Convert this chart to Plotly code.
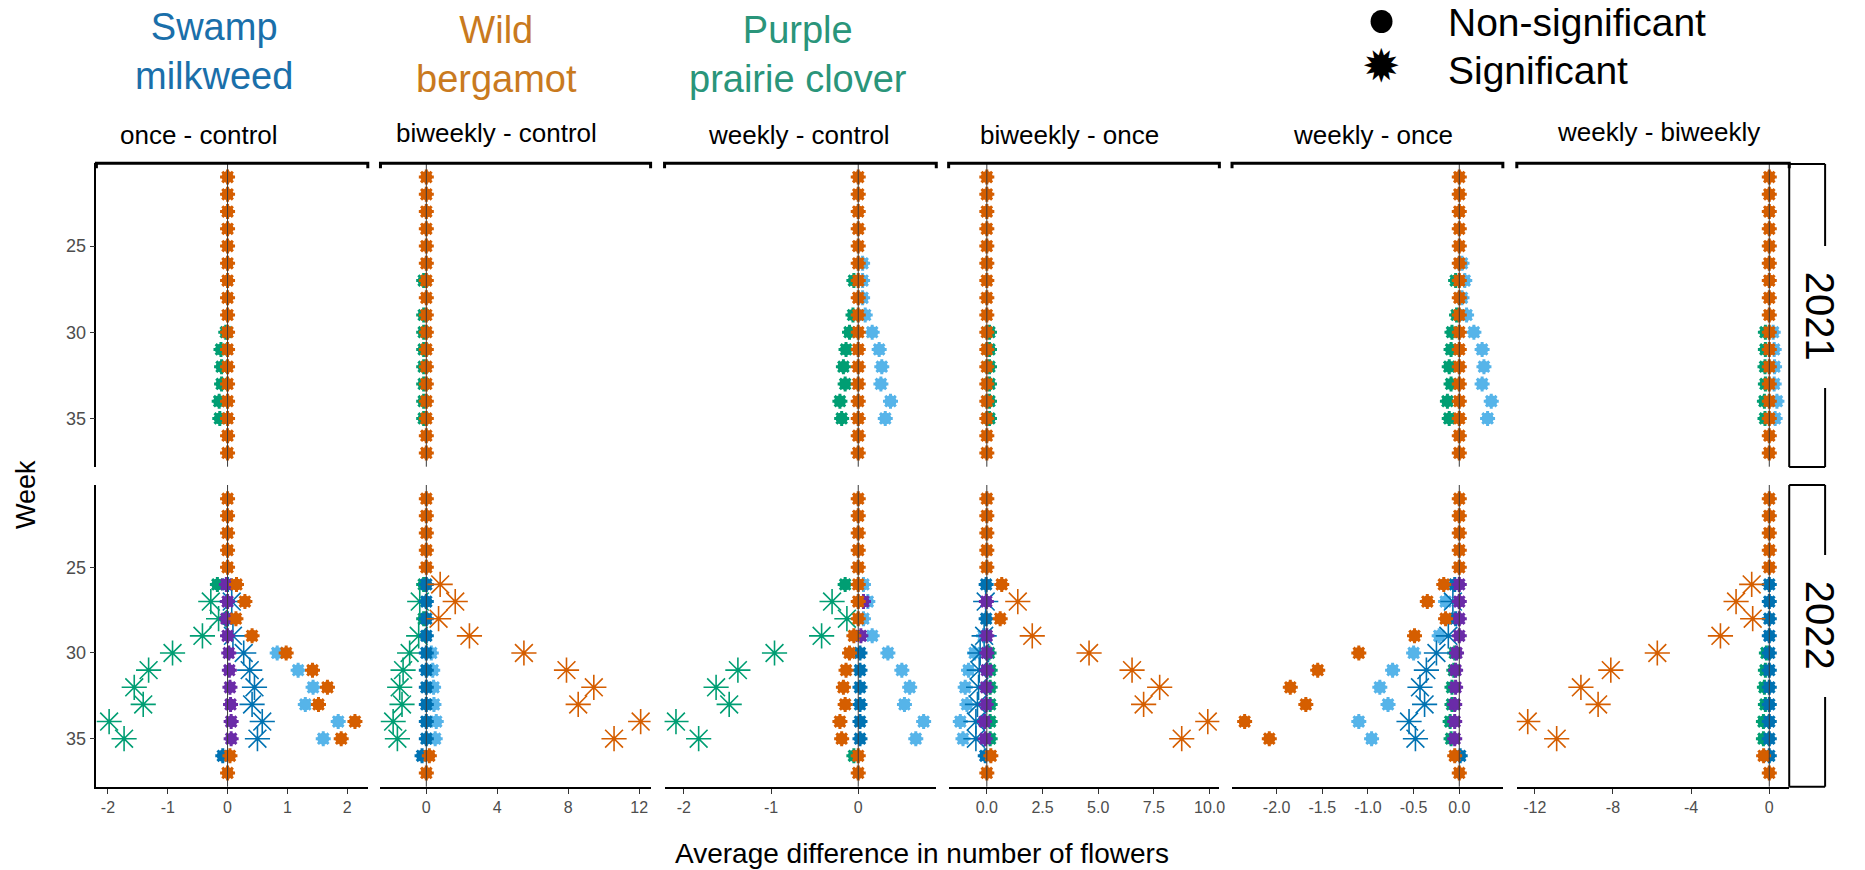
import plotly.graph_objects as go

W, H = 1865, 870
N = None

# ---------------------------------------------------------------- data
WEEKS = [21, 22, 23, 24, 25, 26, 27, 28, 29, 30, 31, 32, 33, 34, 35, 36, 37]
COMPARISONS = ["once - control", "biweekly - control", "weekly - control",
               "biweekly - once", "weekly - once", "weekly - biweekly"]
YEARS = ["2021", "2022"]
X_TICKS = [
    [-2, -1, 0, 1, 2],
    [0, 4, 8, 12],
    [-2, -1, 0],
    [0.0, 2.5, 5.0, 7.5, 10.0],
    [-2.0, -1.5, -1.0, -0.5, 0.0],
    [-12, -8, -4, 0],
]
X_TICKTEXT = [
    ["-2", "-1", "0", "1", "2"],
    ["0", "4", "8", "12"],
    ["-2", "-1", "0"],
    ["0.0", "2.5", "5.0", "7.5", "10.0"],
    ["-2.0", "-1.5", "-1.0", "-0.5", "0.0"],
    ["-12", "-8", "-4", "0"],
]
Y_TICKS = [25, 30, 35]

# average differences per week (weeks 21..37), one list per group colour
once_control_2021 = {
    "green":  [N, N, N, N, N, N, N, N, N, -0.03, -0.11, -0.10, -0.10, -0.14, -0.13, N, N],
    "orange": [0, 0, 0, 0, 0, 0, 0, 0, 0, 0, 0, 0, 0, 0, 0, 0, 0],
}
biweekly_control_2021 = {
    "green":  [N, N, N, N, N, N, -0.15, N, -0.15, -0.15, -0.15, -0.15, -0.15, -0.15, -0.15, N, N],
    "orange": [0, 0, 0, 0, 0, 0, 0, 0, 0, 0, 0, 0, 0, 0, 0, 0, 0],
}
weekly_control_2021 = {
    "green":   [N, N, N, N, N, N, -0.05, N, -0.06, -0.10, -0.14, -0.17, -0.15, -0.21, -0.19, N, N],
    "skyblue": [N, N, N, N, N, 0.05, 0.05, 0.05, 0.08, 0.16, 0.24, 0.27, 0.26, 0.37, 0.31, N, N],
    "orange":  [0, 0, 0, 0, 0, 0, 0, 0, 0, 0, 0, 0, 0, 0, 0, 0, 0],
}
biweekly_once_2021 = {
    "green":  [N, N, N, N, N, N, N, N, N, 0.12, 0.12, 0.12, 0.12, 0.12, 0.12, N, N],
    "orange": [0, 0, 0, 0, 0, 0, 0, 0, 0, 0, 0, 0, 0, 0, 0, 0, 0],
}
weekly_once_2021 = {
    "green":   [N, N, N, N, N, N, -0.04, N, -0.03, -0.08, -0.09, -0.11, -0.09, -0.13, -0.11, N, N],
    "skyblue": [N, N, N, N, N, 0.03, 0.06, 0.03, 0.08, 0.16, 0.25, 0.27, 0.25, 0.35, 0.31, N, N],
    "orange":  [0, 0, 0, 0, 0, 0, 0, 0, 0, 0, 0, 0, 0, 0, 0, 0, 0],
}
weekly_biweekly_2021 = {
    "green":   [N, N, N, N, N, N, N, N, N, -0.20, -0.20, -0.22, -0.20, -0.25, -0.22, N, N],
    "skyblue": [N, N, N, N, N, N, N, N, N, 0.20, 0.25, 0.27, 0.25, 0.39, 0.30, N, N],
    "orange":  [0, 0, 0, 0, 0, 0, 0, 0, 0, 0, 0, 0, 0, 0, 0, 0, 0],
}

once_control_2022 = {
    "green":   [N, N, N, N, N, -0.17, -0.28, -0.15, -0.42, -0.92, -1.32, -1.56, -1.41, -1.98, -1.73, N, N],
    "skyblue": [N, N, N, N, N, N, N, N, N, 0.83, 1.18, 1.43, 1.30, 1.85, 1.60, N, N],
    "blue":    [N, N, N, N, N, 0, 0.07, 0, 0.09, 0.27, 0.37, 0.45, 0.41, 0.58, 0.50, -0.08, N],
    "purple":  [N, N, N, N, N, -0.02, 0, -0.02, 0, 0.02, 0.03, 0.04, 0.05, 0.06, 0.06, N, N],
    "orange":  [0, 0, 0, 0, 0, 0.15, 0.29, 0.14, 0.41, 0.98, 1.42, 1.67, 1.52, 2.13, 1.90, 0.04, 0],
}
biweekly_control_2022 = {
    "green":   [N, N, N, N, N, -0.15, -0.37, -0.15, -0.43, -0.94, -1.31, -1.50, -1.37, -1.87, -1.63, N, N],
    "skyblue": [N, N, N, N, N, N, N, N, N, 0.28, 0.36, 0.41, 0.43, 0.56, 0.50, N, N],
    "blue":    [N, N, N, N, N, 0, 0, 0, 0, 0, 0, 0, 0, 0, 0, -0.24, N],
    "orange":  [0, 0, 0, 0, 0, 0.78, 1.63, 0.69, 2.43, 5.50, 7.90, 9.44, 8.56, 12.08, 10.58, 0.17, 0],
}
weekly_control_2022 = {
    "green":   [N, N, N, N, N, -0.15, -0.30, -0.13, -0.42, -0.96, -1.38, -1.63, -1.48, -2.09, -1.83, -0.05, N],
    "skyblue": [N, N, N, N, N, 0.06, 0.11, 0.06, 0.16, 0.34, 0.50, 0.59, 0.53, 0.75, 0.66, N, N],
    "blue":    [N, N, N, N, N, N, N, N, N, 0.02, 0.02, 0.02, 0.02, 0.02, 0.02, N, N],
    "purple":  [N, N, N, N, N, N, 0.06, N, 0.03, N, N, N, N, N, N, N, N],
    "orange":  [0, 0, 0, 0, 0, 0, 0, 0, -0.05, -0.10, -0.14, -0.17, -0.15, -0.21, -0.19, 0, 0],
}
biweekly_once_2022 = {
    "green":   [N, N, N, N, N, N, N, N, N, 0.10, 0.15, 0.15, 0.15, 0.15, 0.15, N, N],
    "skyblue": [N, N, N, N, N, N, N, N, -0.15, -0.55, -0.82, -0.97, -0.89, -1.19, -1.07, N, N],
    "blue":    [N, N, N, N, N, -0.03, -0.05, -0.03, -0.12, -0.30, -0.34, -0.37, -0.42, -0.49, -0.49, -0.07, N],
    "purple":  [N, N, N, N, N, N, -0.02, N, 0, 0, 0, -0.03, -0.03, -0.10, -0.07, N, N],
    "orange":  [0, 0, 0, 0, 0, 0.67, 1.39, 0.60, 2.04, 4.59, 6.52, 7.76, 7.04, 9.92, 8.75, 0.18, 0],
}
weekly_once_2022 = {
    "green":   [N, N, N, N, N, N, N, N, N, -0.05, -0.06, -0.08, -0.08, -0.10, -0.09, N, N],
    "skyblue": [N, N, N, N, N, N, -0.15, N, -0.22, -0.50, -0.73, -0.87, -0.78, -1.10, -0.96, N, N],
    "blue":    [N, N, N, N, N, -0.05, -0.07, -0.04, -0.12, -0.25, -0.36, -0.43, -0.38, -0.55, -0.48, 0.01, N],
    "purple":  [N, N, N, N, N, 0, 0, 0, 0, -0.03, -0.04, -0.04, -0.05, -0.05, -0.05, N, N],
    "orange":  [0, 0, 0, 0, 0, -0.17, -0.35, -0.15, -0.49, -1.10, -1.55, -1.85, -1.68, -2.35, -2.08, -0.05, 0],
}
weekly_biweekly_2022 = {
    "green":  [N, N, N, N, N, N, N, N, N, -0.15, -0.20, -0.25, -0.20, -0.30, -0.30, N, N],
    "blue":   [N, N, N, N, N, 0, 0, 0, 0, 0, 0, 0, 0, 0, 0, 0, N],
    "orange": [0, 0, 0, 0, 0, -0.90, -1.70, -0.85, -2.50, -5.73, -8.11, -9.64, -8.76, -12.36, -10.88, -0.29, 0],
}

# weeks whose difference is significant, per group colour
sig_once_control_2022 = {"green": [27, 28, 29, 30, 31, 32, 33, 34, 35],
                         "blue": [27, 29, 30, 31, 32, 33, 34, 35]}
sig_biweekly_control_2022 = {"green": [27, 29, 30, 31, 32, 33, 34, 35],
                             "orange": [26, 27, 28, 29, 30, 31, 32, 33, 34, 35]}
sig_weekly_control_2022 = {"green": [27, 28, 29, 30, 31, 32, 33, 34, 35]}
sig_biweekly_once_2022 = {"blue": [27, 29, 30, 31, 32, 33, 34, 35],
                          "orange": [27, 29, 30, 31, 32, 33, 34, 35]}
sig_weekly_once_2022 = {"blue": [27, 29, 30, 31, 32, 33, 34, 35]}
sig_weekly_biweekly_2022 = {"orange": [26, 27, 28, 29, 30, 31, 32, 33, 34, 35]}

PANELS = [
    [once_control_2021, biweekly_control_2021, weekly_control_2021,
     biweekly_once_2021, weekly_once_2021, weekly_biweekly_2021],
    [once_control_2022, biweekly_control_2022, weekly_control_2022,
     biweekly_once_2022, weekly_once_2022, weekly_biweekly_2022],
]
SIGNIFICANT = [
    [{}, {}, {}, {}, {}, {}],
    [sig_once_control_2022, sig_biweekly_control_2022, sig_weekly_control_2022,
     sig_biweekly_once_2022, sig_weekly_once_2022, sig_weekly_biweekly_2022],
]

# ---------------------------------------------------------------- styling
FONT = "Liberation Sans, Arial, Helvetica, sans-serif"
COLORS = {"green": "#009E73", "skyblue": "#56B4E9", "blue": "#0072B2",
          "purple": "#6A2BA8", "orange": "#D55E00"}
DRAW_ORDER = ["green", "skyblue", "blue", "purple", "orange"]

# panel geometry in pixels
COL_PX = [(96.7, 369.0), (381.7, 652.7), (666.7, 939.3),
          (951.7, 1223.3), (1236.0, 1507.7), (1521.7, 1795.0)]
ROW_PX = [(163.3, 466.7), (485.0, 786.7)]
X_RANGES = [(-2.193, 2.345), (-2.584, 12.64), (-2.221, 0.895),
            (-1.714, 10.44), (-2.488, 0.477), (-12.92, 1.02)]
Y_RANGE = [37.8, 20.2]


def px(x):
    return x / W


def py(y):
    return 1 - y / H


fig = go.Figure()
layout_axes = {}
shapes = []

for r in range(2):
    for c in range(6):
        idx = r * 6 + c + 1
        xname = "x" if idx == 1 else f"x{idx}"
        yname = "y" if idx == 1 else f"y{idx}"
        xkey = "xaxis" if idx == 1 else f"xaxis{idx}"
        ykey = "yaxis" if idx == 1 else f"yaxis{idx}"
        bottom = r == 1
        left = c == 0
        layout_axes[xkey] = dict(
            domain=[px(COL_PX[c][0]), px(COL_PX[c][1])],
            range=list(X_RANGES[c]), anchor=yname,
            showgrid=False, zeroline=False,
            showline=bottom, linecolor="#000000", linewidth=1.6,
            ticks="outside" if bottom else "", ticklen=5, tickwidth=1,
            tickcolor="#333333",
            showticklabels=bottom,
            tickvals=X_TICKS[c], ticktext=X_TICKTEXT[c],
            tickfont=dict(family=FONT, size=16, color="#4D4D4D"),
            fixedrange=True,
        )
        layout_axes[ykey] = dict(
            domain=[py(ROW_PX[r][1]), py(ROW_PX[r][0])],
            range=Y_RANGE, anchor=xname,
            showgrid=False, zeroline=False,
            showline=left, linecolor="#000000", linewidth=1.6,
            ticks="outside" if left else "", ticklen=5, tickwidth=1,
            tickcolor="#333333",
            showticklabels=left, tickvals=Y_TICKS,
            tickfont=dict(family=FONT, size=18, color="#4D4D4D"),
            fixedrange=True,
        )

        panel = PANELS[r][c]
        sig = SIGNIFICANT[r][c]
        for g in DRAW_ORDER:
            if g not in panel:
                continue
            col = COLORS[g]
            sig_weeks = sig.get(g, [])
            nx, ny, sx, sy = [], [], [], []
            for w, v in zip(WEEKS, panel[g]):
                if v is None:
                    continue
                if w in sig_weeks:
                    sx.append(v)
                    sy.append(w)
                else:
                    nx.append(v)
                    ny.append(w)
            if nx:
                fig.add_trace(go.Scatter(
                    x=nx, y=ny, mode="markers", xaxis=xname, yaxis=yname,
                    marker=dict(symbol="circle", size=12, color=col,
                                line=dict(width=0)),
                    showlegend=False, hoverinfo="skip"))
                fig.add_trace(go.Scatter(
                    x=nx, y=ny, mode="markers", xaxis=xname, yaxis=yname,
                    marker=dict(symbol="asterisk-open", size=12.5, color=col,
                                line=dict(width=3, color=col)),
                    showlegend=False, hoverinfo="skip"))
            if sx:
                fig.add_trace(go.Scatter(
                    x=sx, y=sy, mode="markers", xaxis=xname, yaxis=yname,
                    marker=dict(symbol="asterisk-open", size=21, color=col,
                                line=dict(width=1.6, color=col)),
                    showlegend=False, hoverinfo="skip"))

        # zero reference line
        shapes.append(dict(type="line", xref=xname, yref=f"{yname} domain",
                           x0=0, x1=0, y0=0, y1=1, layer="above",
                           line=dict(color="#3A3A3A", width=1)))

# facet header brackets
HEADER_Y = 163.3
for (x0, x1) in COL_PX:
    path = (f"M {px(x0)},{py(HEADER_Y + 5)} L {px(x0)},{py(HEADER_Y)} "
            f"L {px(x1)},{py(HEADER_Y)} L {px(x1)},{py(HEADER_Y + 5)}")
    shapes.append(dict(type="path", xref="paper", yref="paper", path=path,
                       line=dict(color="#000000", width=3)))

# year strips on the right
STRIP_X0, STRIP_X1 = 1795.0, 1831.0
for (y0, y1), yc in zip([(164.0, 467.0), (485.0, 786.7)], [316.0, 625.0]):
    seg = [
        (STRIP_X0, y0, STRIP_X0, y1),
        (STRIP_X0, y0, STRIP_X1, y0),
        (STRIP_X0, y1, STRIP_X1, y1),
        (STRIP_X1, y0, STRIP_X1, yc - 70),
        (STRIP_X1, yc + 72, STRIP_X1, y1),
    ]
    for (a, b, cc, d) in seg:
        shapes.append(dict(type="line", xref="paper", yref="paper",
                           x0=px(a), y0=py(b), x1=px(cc), y1=py(d),
                           line=dict(color="#000000", width=2)))

# legend marker (filled circle)
shapes.append(dict(type="circle", xref="paper", yref="paper",
                   x0=px(1375), x1=px(1397), y0=py(33), y1=py(10),
                   fillcolor="#000000", line=dict(width=0)))

annotations = []


def label(text, x, y, size, color="#000000", angle=0, xanchor="center",
          family=FONT):
    annotations.append(dict(text=text, x=px(x), y=py(y), xref="paper",
                            yref="paper", showarrow=False, textangle=angle,
                            xanchor=xanchor, yanchor="middle",
                            font=dict(family=family, size=size, color=color)))


HEADER_POS = [(200, 135), (498, 133), (802, 135), (1073, 135), (1377, 135), (1664, 132)]
for text, (hx, hy) in zip(COMPARISONS, HEADER_POS):
    label(text, hx, hy, 26)

label("Swamp<br>milkweed", 215, 52, 38, "#1A6FAA")
label("Wild<br>bergamot", 498, 54, 38, "#C97A1E")
label("Purple<br>prairie clover", 801, 55, 38, "#2A957A")

label("Non-significant", 1451, 22, 39, xanchor="left")
label("Significant", 1451, 71, 39, xanchor="left")
label("\u2739", 1386, 66, 46, family="DejaVu Sans")

label(YEARS[0], 1826, 316, 40, angle=90)
label(YEARS[1], 1826, 625, 40, angle=90)

label("Week", 26, 494, 27, angle=-90)
label("Average difference in number of flowers", 925, 853, 28)

fig.update_layout(
    width=W, height=H, autosize=False,
    margin=dict(l=0, r=0, t=0, b=0, pad=0),
    paper_bgcolor="#FFFFFF", plot_bgcolor="rgba(0,0,0,0)",
    showlegend=False, shapes=shapes, annotations=annotations,
    **layout_axes,
)

fig.write_html("out.html")
